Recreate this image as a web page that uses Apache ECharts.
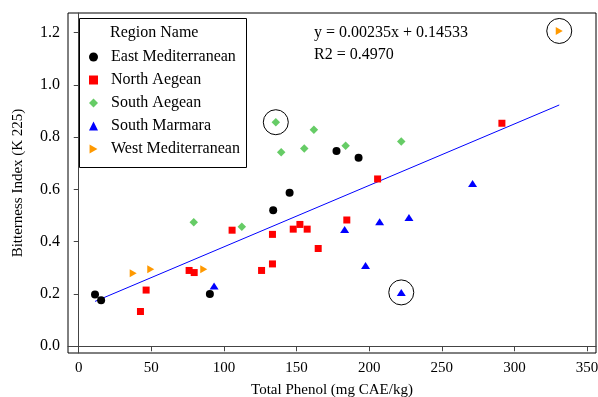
<!DOCTYPE html>
<html>
<head>
<meta charset="utf-8">
<script src="https://cdn.jsdelivr.net/npm/echarts@6/dist/echarts.min.js"></script>
<style>
  html, body { margin: 0; padding: 0; background: #fff; }
  #chart { width: 598px; height: 397px; }
</style>
</head>
<body>
<div id="chart"></div>
<script>
// points: [total phenol, bitterness index]
const eastMediterranean = [[11.2, 0.198], [15.4, 0.176], [90.3, 0.200], [133.9, 0.520], [145.2, 0.587], [177.5, 0.747], [192.7, 0.721]];
const northAegean = [[42.5, 0.133], [46.4, 0.215], [76.0, 0.290], [79.5, 0.282], [105.6, 0.444], [125.9, 0.290], [133.4, 0.315],
  [133.4, 0.428], [147.7, 0.448], [152.3, 0.466], [157.3, 0.448], [164.9, 0.374], [184.6, 0.483], [205.8, 0.640], [291.4, 0.853]];
const southAegean = [[79.2, 0.474], [112.3, 0.457], [135.7, 0.857], [139.4, 0.742], [155.3, 0.756], [161.9, 0.828], [183.8, 0.767], [222.1, 0.783]];
const southMarmara = [[93.2, 0.231], [183.1, 0.447], [197.5, 0.309], [207.2, 0.476], [222.1, 0.206], [227.4, 0.493], [271.2, 0.623]];
const westMediterranean = [[37.5, 0.279], [49.6, 0.295], [86.1, 0.295], [330.9, 1.206]];

// points ringed in the original
const circled = [[135.7, 0.857], [222.1, 0.206], [330.9, 1.206]];

const slope = 0.00235;
const intercept = 0.14533;
const r2 = '0.4970';

const xTicks = [0, 50, 100, 150, 200, 250, 300, 350];
const yTicks = [0, 0.2, 0.4, 0.6, 0.8, 1.0, 1.2];

const allX = [].concat(eastMediterranean, northAegean, southAegean, southMarmara, westMediterranean).map(p => p[0]);
const x0 = Math.min(...allX);
const x1 = Math.max(...allX);
const fitLine = [[x0, slope * x0 + intercept], [x1, slope * x1 + intercept]];

const rightTriangle = 'path://M0,0L7,4L0,8Z';
const font = 'Liberation Serif';
const chart = echarts.init(document.getElementById('chart'));

chart.setOption({
  animation: false,
  textStyle: { fontFamily: font },
  grid: { left: 68, right: 2, top: 13, bottom: 44, show: true, borderColor: '#000', borderWidth: 1,
    outerBoundsMode: 'none', containLabel: false },
  xAxis: {
    type: 'value', min: -7.4, max: 356.2,
    name: 'Total Phenol (mg CAE/kg)', nameLocation: 'middle', nameGap: 30,
    nameTextStyle: { fontFamily: font, fontSize: 15, color: '#000' },
    axisLine: { show: true, lineStyle: { color: '#444' } },
    axisTick: { show: true, length: 5, customValues: xTicks, lineStyle: { color: '#444' } },
    axisLabel: { customValues: xTicks, fontFamily: font, fontSize: 15, color: '#000', margin: 8 },
    splitLine: { show: false }
  },
  yAxis: {
    type: 'value', min: -0.0257, max: 1.2747,
    name: 'Bitterness Index (K 225)', nameLocation: 'middle', nameGap: 42,
    nameTextStyle: { fontFamily: font, fontSize: 15, color: '#000' },
    axisLine: { show: true, lineStyle: { color: '#444' } },
    axisTick: { show: true, length: 5, customValues: yTicks, lineStyle: { color: '#444' } },
    axisLabel: { customValues: yTicks, fontFamily: font, fontSize: 16, color: '#000', margin: 8,
      formatter: v => v.toFixed(1) },
    splitLine: { show: false }
  },
  legend: {
    orient: 'vertical', left: 89, top: 49, padding: 0, itemWidth: 9, itemHeight: 9, itemGap: 7,
    textStyle: { fontFamily: font, fontSize: 16, color: '#000', padding: [0, 0, 0, 8] },
    data: [
      { name: 'East Mediterranean', icon: 'circle' },
      { name: 'North Aegean', icon: 'rect' },
      { name: 'South Aegean', icon: 'diamond' },
      { name: 'South Marmara', icon: 'triangle' },
      { name: 'West Mediterranean', icon: rightTriangle }
    ]
  },
  graphic: [
    { type: 'rect', shape: { x: 79.5, y: 18.5, width: 167, height: 149 }, style: { fill: 'none', stroke: '#000', lineWidth: 1 } },
    { type: 'text', left: 110, top: 25, style: { text: 'Region Name', font: '16px "Liberation Serif"', fill: '#000' } },
    { type: 'text', left: 314, top: 25, style: { text: 'y = ' + slope + 'x + ' + intercept, font: '16px "Liberation Serif"', fill: '#000' } },
    { type: 'text', left: 314, top: 47, style: { text: 'R2 = ' + r2, font: '16px "Liberation Serif"', fill: '#000' } }
  ],
  series: [
    { name: 'fit', type: 'line', data: fitLine, symbol: 'none', lineStyle: { color: '#0000FF', width: 1 }, z: 1, silent: true },
    { name: 'East Mediterranean', type: 'scatter', data: eastMediterranean, symbol: 'circle', symbolSize: 8,
      itemStyle: { color: '#000', opacity: 1 } },
    { name: 'North Aegean', type: 'scatter', data: northAegean, symbol: 'rect', symbolSize: 7,
      itemStyle: { color: '#FF0000', opacity: 1 } },
    { name: 'South Aegean', type: 'scatter', data: southAegean, symbol: 'diamond', symbolSize: 8.5,
      itemStyle: { color: '#66CC66', opacity: 1 } },
    { name: 'South Marmara', type: 'scatter', data: southMarmara, symbol: 'triangle', symbolSize: [9, 7],
      itemStyle: { color: '#0000FF', opacity: 1 } },
    { name: 'West Mediterranean', type: 'scatter', data: westMediterranean, symbol: rightTriangle, symbolSize: [7, 8],
      itemStyle: { color: '#FF9900', opacity: 1 } },
    { name: 'circled', type: 'scatter', data: circled, symbol: 'circle', symbolSize: 25, silent: true,
      itemStyle: { color: 'rgba(0,0,0,0)', borderColor: '#000', borderWidth: 1, opacity: 1 } }
  ]
});
</script>
</body>
</html>
